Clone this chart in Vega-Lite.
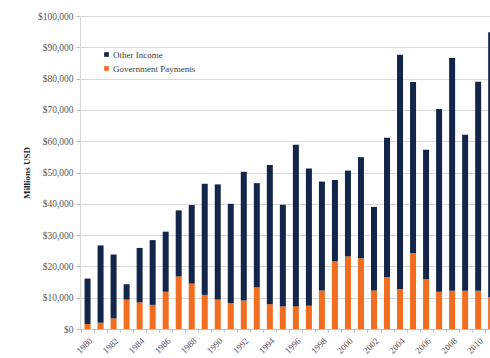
{
  "$schema": "https://vega.github.io/schema/vega-lite/v6.json",
  "autosize": "none",
  "width": 410,
  "height": 313,
  "padding": {"left": 80, "top": 16, "right": 0, "bottom": 29},
  "background": "white",
  "config": {
    "view": {"stroke": null},
    "font": "Times New Roman, Liberation Serif, serif"
  },
  "data": {
    "values": [
      {"year": 1980, "type": "Government Payments", "value": 1600}, {"year": 1980, "type": "Other Income", "value": 14500},
      {"year": 1981, "type": "Government Payments", "value": 2000}, {"year": 1981, "type": "Other Income", "value": 24700},
      {"year": 1982, "type": "Government Payments", "value": 3400}, {"year": 1982, "type": "Other Income", "value": 20400},
      {"year": 1983, "type": "Government Payments", "value": 9400}, {"year": 1983, "type": "Other Income", "value": 4900},
      {"year": 1984, "type": "Government Payments", "value": 8500}, {"year": 1984, "type": "Other Income", "value": 17400},
      {"year": 1985, "type": "Government Payments", "value": 7700}, {"year": 1985, "type": "Other Income", "value": 20700},
      {"year": 1986, "type": "Government Payments", "value": 11900}, {"year": 1986, "type": "Other Income", "value": 19200},
      {"year": 1987, "type": "Government Payments", "value": 16800}, {"year": 1987, "type": "Other Income", "value": 21100},
      {"year": 1988, "type": "Government Payments", "value": 14500}, {"year": 1988, "type": "Other Income", "value": 25100},
      {"year": 1989, "type": "Government Payments", "value": 10900}, {"year": 1989, "type": "Other Income", "value": 35500},
      {"year": 1990, "type": "Government Payments", "value": 9400}, {"year": 1990, "type": "Other Income", "value": 36800},
      {"year": 1991, "type": "Government Payments", "value": 8300}, {"year": 1991, "type": "Other Income", "value": 31700},
      {"year": 1992, "type": "Government Payments", "value": 9100}, {"year": 1992, "type": "Other Income", "value": 41100},
      {"year": 1993, "type": "Government Payments", "value": 13300}, {"year": 1993, "type": "Other Income", "value": 33300},
      {"year": 1994, "type": "Government Payments", "value": 7900}, {"year": 1994, "type": "Other Income", "value": 44500},
      {"year": 1995, "type": "Government Payments", "value": 7200}, {"year": 1995, "type": "Other Income", "value": 32500},
      {"year": 1996, "type": "Government Payments", "value": 7300}, {"year": 1996, "type": "Other Income", "value": 51600},
      {"year": 1997, "type": "Government Payments", "value": 7400}, {"year": 1997, "type": "Other Income", "value": 43900},
      {"year": 1998, "type": "Government Payments", "value": 12300}, {"year": 1998, "type": "Other Income", "value": 34800},
      {"year": 1999, "type": "Government Payments", "value": 21600}, {"year": 1999, "type": "Other Income", "value": 26000},
      {"year": 2000, "type": "Government Payments", "value": 23200}, {"year": 2000, "type": "Other Income", "value": 27400},
      {"year": 2001, "type": "Government Payments", "value": 22600}, {"year": 2001, "type": "Other Income", "value": 32300},
      {"year": 2002, "type": "Government Payments", "value": 12300}, {"year": 2002, "type": "Other Income", "value": 26700},
      {"year": 2003, "type": "Government Payments", "value": 16600}, {"year": 2003, "type": "Other Income", "value": 44500},
      {"year": 2004, "type": "Government Payments", "value": 12800}, {"year": 2004, "type": "Other Income", "value": 74800},
      {"year": 2005, "type": "Government Payments", "value": 24300}, {"year": 2005, "type": "Other Income", "value": 54600},
      {"year": 2006, "type": "Government Payments", "value": 16000}, {"year": 2006, "type": "Other Income", "value": 41300},
      {"year": 2007, "type": "Government Payments", "value": 11900}, {"year": 2007, "type": "Other Income", "value": 58400},
      {"year": 2008, "type": "Government Payments", "value": 12200}, {"year": 2008, "type": "Other Income", "value": 74400},
      {"year": 2009, "type": "Government Payments", "value": 12200}, {"year": 2009, "type": "Other Income", "value": 49900},
      {"year": 2010, "type": "Government Payments", "value": 12200}, {"year": 2010, "type": "Other Income", "value": 66800},
      {"year": 2011, "type": "Government Payments", "value": 10200}, {"year": 2011, "type": "Other Income", "value": 84600}
    ]
  },
  "layer": [
    {
      "mark": {"type": "bar", "size": 6, "clip": true},
      "encoding": {
        "x": {
          "field": "year",
          "type": "quantitative",
          "scale": {"domain": [1979.42, 2010.91], "nice": false, "zero": false, "padding": 0},
          "axis": {
            "title": null,
            "values": [1980, 1982, 1984, 1986, 1988, 1990, 1992, 1994, 1996, 1998, 2000, 2002, 2004, 2006, 2008, 2010],
            "format": "d",
            "labelAngle": -45,
            "labelFontSize": 9,
            "labelColor": "#595959",
            "labelPadding": 7,
            "labelFlush": false,
            "labelOverlap": false,
            "ticks": false,
            "grid": false,
            "domainColor": "#bfbfbf",
            "domainWidth": 1
          }
        },
        "y": {
          "field": "value",
          "type": "quantitative",
          "stack": "zero",
          "scale": {"domain": [0, 100000], "nice": false},
          "axis": {
            "title": "Millions USD",
            "titleFontSize": 9,
            "titleFontWeight": "bold",
            "titleColor": "#262626",
            "titlePadding": 6,
            "values": [0, 10000, 20000, 30000, 40000, 50000, 60000, 70000, 80000, 90000, 100000],
            "format": "$,d",
            "labelFontSize": 9.5,
            "labelColor": "#595959",
            "labelPadding": 3,
            "tickSize": 4,
            "tickColor": "#bfbfbf",
            "gridColor": "#d9d9d9",
            "gridWidth": 1,
            "domainColor": "#d9d9d9"
          }
        },
        "color": {
          "field": "type",
          "type": "nominal",
          "scale": {
            "domain": ["Other Income", "Government Payments"],
            "range": ["#13264a", "#f26d1f"]
          },
          "legend": {
            "title": null,
            "orient": "none",
            "legendX": 22,
            "legendY": 34,
            "symbolType": "square",
            "symbolSize": 22,
            "symbolStrokeWidth": 0,
            "labelFontSize": 9,
            "labelColor": "#404040",
            "labelOffset": 2,
            "rowPadding": 4
          }
        },
        "order": {"field": "type", "sort": "ascending"}
      }
    },
    {
      "mark": {"type": "tick", "opacity": 0},
      "encoding": {
        "x": {
          "field": "year",
          "type": "quantitative",
          "axis": {
            "title": null,
            "orient": "bottom",
            "values": [1979.5, 1980.5, 1981.5, 1982.5, 1983.5, 1984.5, 1985.5, 1986.5, 1987.5, 1988.5, 1989.5, 1990.5, 1991.5, 1992.5, 1993.5, 1994.5, 1995.5, 1996.5, 1997.5, 1998.5, 1999.5, 2000.5, 2001.5, 2002.5, 2003.5, 2004.5, 2005.5, 2006.5, 2007.5, 2008.5, 2009.5, 2010.5],
            "labels": false,
            "domain": false,
            "grid": false,
            "ticks": true,
            "tickSize": 3,
            "tickColor": "#bfbfbf"
          }
        }
      }
    }
  ],
  "resolve": {"axis": {"x": "independent"}}
}
